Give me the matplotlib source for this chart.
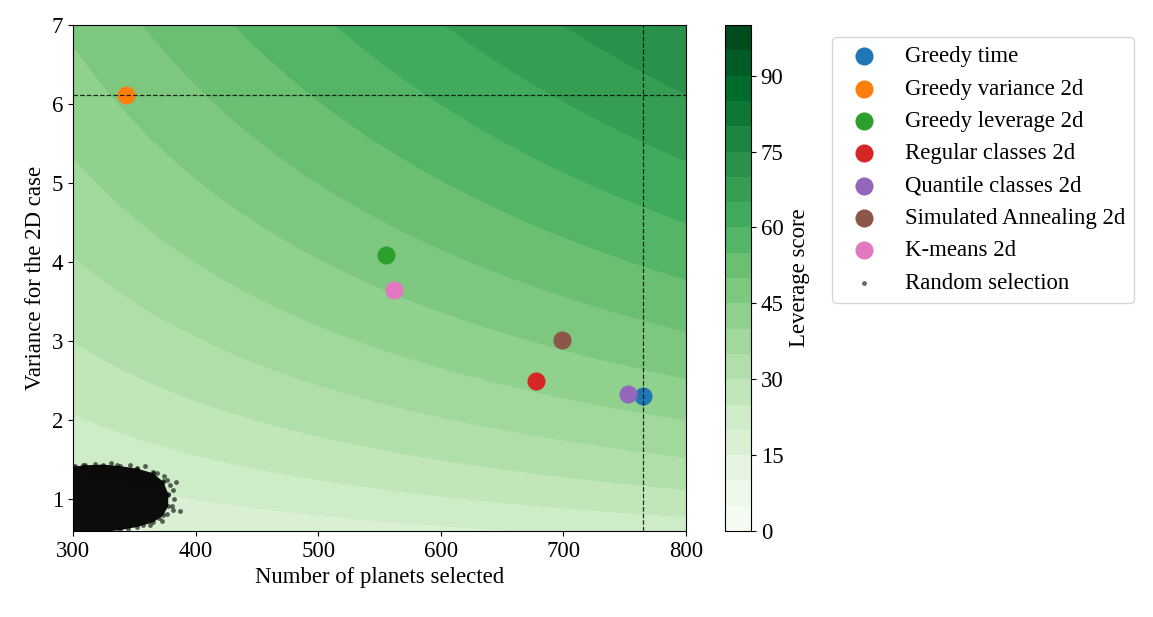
import matplotlib
matplotlib.use("Agg")
import matplotlib.pyplot as plt
import numpy as np

plt.rcParams['font.family'] = ['Liberation Serif', 'DejaVu Serif']
plt.rcParams['font.size'] = 16.4

# axis ranges
n_lim = (300, 800)
var_lim = (0.6, 7)

# selection methods (number of planets, variance)
method_names = ["Greedy time", "Greedy variance 2d", "Greedy leverage 2d",
                "Regular classes 2d", "Quantile classes 2d",
                "Simulated Annealing 2d", "K-means 2d"]
method_n = [765, 343, 555, 678, 753, 699, 562]
method_var = [2.31, 6.11, 4.09, 2.50, 2.33, 3.01, 3.65]
method_colors = ["tab:blue", "tab:orange", "tab:green", "tab:red",
                 "tab:purple", "tab:brown", "tab:pink"]

# random selection cloud: dense outline + loose points on the edge
random_outline_n = [290, 300.8, 308.4, 324.7, 338.3, 352, 365.5, 373.7, 377.7,
                    377.7, 373.7, 365.5, 352, 338, 300, 290]
random_outline_var = [1.41, 1.41, 1.43, 1.44, 1.42, 1.39, 1.33, 1.22, 1.07,
                      0.92, 0.80, 0.71, 0.65, 0.61, 0.55, 0.55]
random_edge_n = [330.7, 346.5, 358.7, 368.8, 374.2, 376.4, 383.8, 379, 381.3,
                 382.4, 380.5, 381.8, 387.3, 376.4, 372.3, 362.8, 357.3,
                 318, 310, 302, 336, 352, 365.5, 373.7, 377.7, 370, 345]
random_edge_var = [1.46, 1.43, 1.42, 1.33, 1.30, 1.24, 1.22, 1.18, 1.12,
                   1.00, 0.92, 0.87, 0.85, 0.82, 0.73, 0.67, 0.67,
                   1.45, 1.44, 1.42, 1.43, 1.40, 1.34, 1.23, 1.05, 0.77, 0.63]

levels = np.arange(0, 101, 5)
cbar_ticks = np.arange(0, 91, 15)


def leverage(n, var):
    return np.sqrt(n * var)


fig = plt.figure(figsize=(11.53, 6.17), dpi=100)
ax = fig.add_axes([0.0633, 0.1394, 0.5317, 0.820])
cax = fig.add_axes([0.6288, 0.1394, 0.0225, 0.820])

nn, vv = np.meshgrid(np.linspace(n_lim[0], n_lim[1], 400),
                     np.linspace(var_lim[0], var_lim[1], 400))
cs = ax.contourf(nn, vv, leverage(nn, vv), levels=levels, cmap="Greens")

ax.fill(random_outline_n, random_outline_var, color="black", alpha=0.95, lw=0, zorder=2)
ax.scatter(random_outline_n, random_outline_var, s=12, color="black", alpha=0.6, lw=0, zorder=2)
h_rand = ax.scatter(random_edge_n, random_edge_var, s=12, color="black", alpha=0.6, lw=0,
                    zorder=2, label="Random selection")

handles = []
for name, n, v, c in zip(method_names, method_n, method_var, method_colors):
    handles.append(ax.scatter(n, v, s=170, color=c, lw=0, zorder=3, label=name))
handles.append(h_rand)

ax.axvline(method_n[0], color="black", ls="--", lw=0.9, alpha=0.8, zorder=4)
ax.axhline(method_var[1], color="black", ls="--", lw=0.9, alpha=0.8, zorder=4)

ax.set_xlim(n_lim)
ax.set_ylim(var_lim)
ax.set_xticks(np.arange(300, 801, 100))
ax.set_yticks(np.arange(1, 8, 1))
ax.set_xlabel("Number of planets selected")
ax.set_ylabel("Variance for the 2D case")

cb = fig.colorbar(cs, cax=cax, ticks=cbar_ticks)
cb.set_label("Leverage score")

ax.legend(handles=handles, loc="upper left", bbox_to_anchor=(0.7216, 0.94),
          bbox_transform=fig.transFigure, borderaxespad=0, fontsize=16.4)

fig.savefig("out.png", dpi=100)
